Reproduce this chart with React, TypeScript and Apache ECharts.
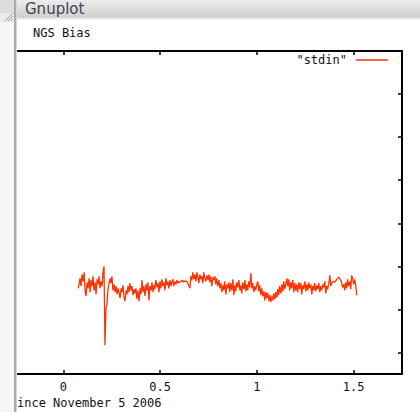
import React, { useEffect, useRef } from "react";
import * as echarts from "echarts";

const chartTitle = "NGS Bias";
const windowTitle = "Gnuplot";
const xAxisText = "ince November 5 2006";
const seriesName = '"stdin"';
const xTickValues = [0, 0.5, 1, 1.5];

// [days since Nov 5 2006, bias]
const biasSamples: [number, number][] = [
  [0.076,-1.51],[0.081,-1.42],[0.086,-1.28],[0.091,-1.46],[0.096,-1.19],[0.102,-1.35],[0.107,-1.14],[0.112,-1.56],[0.117,-1.69],[0.122,-1.37],
  [0.127,-1.51],[0.133,-1.28],[0.138,-1.60],[0.143,-1.32],[0.148,-1.46],[0.153,-1.23],[0.158,-1.56],[0.164,-1.37],[0.169,-1.65],[0.174,-1.30],
  [0.179,-1.42],[0.184,-1.23],[0.189,-1.51],[0.195,-1.35],[0.200,-1.46],[0.205,-1.14],[0.210,-1.00],[0.215,-2.83],[0.220,-1.97],[0.225,-1.90],
  [0.231,-1.51],[0.236,-1.42],[0.241,-1.28],[0.246,-1.39],[0.251,-1.23],[0.256,-1.56],[0.262,-1.42],[0.267,-1.60],[0.272,-1.46],[0.277,-1.65],
  [0.282,-1.51],[0.287,-1.60],[0.293,-1.74],[0.298,-1.51],[0.303,-1.60],[0.308,-1.44],[0.313,-1.69],[0.318,-1.81],[0.324,-1.56],[0.329,-1.65],
  [0.334,-1.46],[0.339,-1.60],[0.344,-1.39],[0.349,-1.56],[0.354,-1.46],[0.360,-1.67],[0.365,-1.53],[0.370,-1.63],[0.375,-1.51],[0.380,-1.76],
  [0.385,-1.56],[0.391,-1.81],[0.396,-1.51],[0.401,-1.65],[0.406,-1.32],[0.411,-1.60],[0.416,-1.46],[0.422,-1.69],[0.427,-1.42],[0.432,-1.56],
  [0.437,-1.37],[0.442,-1.79],[0.447,-1.46],[0.453,-1.56],[0.458,-1.37],[0.463,-1.60],[0.468,-1.44],[0.473,-1.53],[0.478,-1.32],[0.484,-1.49],
  [0.489,-1.39],[0.494,-1.60],[0.499,-1.35],[0.504,-1.51],[0.509,-1.30],[0.514,-1.46],[0.520,-1.37],[0.525,-1.56],[0.530,-1.28],[0.535,-1.44],
  [0.540,-1.35],[0.545,-1.51],[0.551,-1.32],[0.556,-1.46],[0.561,-1.37],[0.566,-1.30],[0.571,-1.46],[0.576,-1.35],[0.582,-1.42],[0.587,-1.32],
  [0.592,-1.39],[0.597,-1.35],[0.602,-1.37],[0.607,-1.35],[0.613,-1.32],[0.618,-1.37],[0.623,-1.33],[0.628,-1.36],[0.633,-1.34],[0.638,-1.35],
  [0.644,-1.39],[0.649,-1.46],[0.654,-1.51],[0.659,-1.23],
  [0.664,-1.32],[0.669,-1.14],[0.675,-1.30],[0.680,-1.19],[0.685,-1.35],[0.690,-1.14],[0.695,-1.25],[0.700,-1.39],[0.705,-1.19],[0.711,-1.30],
  [0.716,-1.23],[0.721,-1.39],[0.726,-1.14],[0.731,-1.28],[0.736,-1.35],[0.742,-1.21],[0.747,-1.32],[0.752,-1.19],[0.757,-1.37],[0.762,-1.23],
  [0.767,-1.46],[0.773,-1.25],[0.778,-1.32],[0.783,-1.23],[0.788,-1.42],[0.793,-1.28],[0.798,-1.46],[0.804,-1.32],[0.809,-1.51],[0.814,-1.39],
  [0.819,-1.60],[0.824,-1.44],[0.829,-1.56],[0.834,-1.35],[0.840,-1.65],[0.845,-1.42],[0.850,-1.51],[0.855,-1.37],[0.860,-1.60],[0.865,-1.39],
  [0.871,-1.56],[0.876,-1.30],[0.881,-1.67],[0.886,-1.44],[0.891,-1.58],[0.896,-1.37],[0.902,-1.49],[0.907,-1.32],[0.912,-1.56],[0.917,-1.44],
  [0.922,-1.63],[0.927,-1.37],[0.933,-1.53],[0.938,-1.32],[0.943,-1.58],[0.948,-1.42],[0.953,-1.56],[0.958,-1.35],[0.963,-1.49],[0.969,-1.16],
  [0.974,-1.51],[0.979,-1.39],[0.984,-1.60],[0.989,-1.46],[0.994,-1.56],[1.000,-1.42],[1.005,-1.35],[1.010,-1.58],[1.015,-1.44],[1.020,-1.67],
  [1.025,-1.51],[1.031,-1.69],[1.036,-1.58],[1.041,-1.79],[1.046,-1.60],[1.051,-1.74],[1.056,-1.62],[1.062,-1.81],[1.067,-1.66],[1.072,-1.83],
  [1.077,-1.70],[1.082,-1.79],[1.087,-1.63],[1.093,-1.76],[1.098,-1.60],[1.103,-1.72],[1.108,-1.53],[1.113,-1.67],[1.118,-1.46],[1.124,-1.63],
  [1.129,-1.42],[1.134,-1.58],[1.139,-1.35],[1.144,-1.53],[1.149,-1.42],[1.155,-1.28],[1.160,-1.46],[1.165,-1.30],[1.170,-1.56],[1.175,-1.37],
  [1.180,-1.51],[1.186,-1.32],[1.191,-1.60],[1.196,-1.39],[1.201,-1.56],[1.206,-1.42],[1.211,-1.60],[1.217,-1.37],[1.222,-1.53],[1.227,-1.39],
  [1.232,-1.65],[1.237,-1.44],[1.242,-1.53],[1.248,-1.35],[1.253,-1.58],[1.258,-1.42],[1.263,-1.56],[1.268,-1.37],[1.273,-1.51],[1.279,-1.42],
  [1.284,-1.65],[1.289,-1.46],[1.294,-1.56],[1.299,-1.39],[1.304,-1.58],[1.310,-1.44],[1.315,-1.53],[1.320,-1.39],[1.325,-1.60],[1.330,-1.46],
  [1.335,-1.56],[1.341,-1.42],[1.346,-1.49],[1.351,-1.35],[1.356,-1.63],[1.361,-1.46],[1.366,-1.53],[1.372,-1.39],[1.377,-1.21],[1.382,-1.46],
  [1.387,-1.39],[1.392,-1.35],[1.402,-1.37],[1.413,-1.30],[1.423,-1.25],[1.433,-1.32],[1.438,-1.37],[1.443,-1.49],[1.449,-1.42],[1.454,-1.56],
  [1.459,-1.37],[1.464,-1.51],[1.469,-1.30],[1.474,-1.46],[1.480,-1.35],[1.485,-1.53],[1.490,-1.21],[1.495,-1.28],[1.500,-1.42],[1.505,-1.30],
  [1.511,-1.46],[1.516,-1.67],
];

const MONO = "'DejaVu Sans Mono', monospace";

export default function App() {
  const ref = useRef<HTMLDivElement>(null);
  useEffect(() => {
    if (!ref.current) return;
    const chart = echarts.init(ref.current, null, { renderer: "svg" });
    const isTick = (v: number) => xTickValues.some((t) => Math.abs(t - v) < 1e-9);
    const axisLine = { show: true, onZero: false, lineStyle: { color: "#000", width: 2 } };
    const tick = { show: true, inside: true, length: 4, lineStyle: { color: "#000", width: 1.5 } };
    chart.setOption({
      animation: false,
      backgroundColor: "#ffffff",
      title: {
        text: chartTitle,
        left: 33,
        top: 27,
        padding: 0,
        textStyle: { fontFamily: MONO, fontSize: 12, fontWeight: "normal", color: "#111" },
      },
      legend: {
        data: [seriesName],
        right: 32,
        top: 54,
        padding: 0,
        align: "right",
        icon: "rect",
        itemWidth: 32,
        itemHeight: 1.5,
        textStyle: { fontFamily: MONO, fontSize: 12, color: "#111", padding: [0, 4, 0, 0] },
      },
      grid: { left: 15, right: 18, top: 51, bottom: 38, containLabel: false },
      xAxis: [
        {
          type: "value",
          position: "bottom",
          min: -0.25,
          max: 1.75,
          splitNumber: 4,
          axisLine,
          axisTick: tick,
          splitLine: { show: false },
          axisLabel: {
            margin: 7,
            fontFamily: MONO,
            fontSize: 12,
            color: "#111",
            formatter: (v: number) => (isTick(v) ? String(v) : ""),
          },
        },
        {
          type: "value",
          position: "top",
          min: -0.25,
          max: 1.75,
          splitNumber: 4,
          axisLine,
          axisTick: tick,
          splitLine: { show: false },
          axisLabel: { show: false },
        },
      ],
      yAxis: [
        {
          type: "value",
          position: "left",
          min: -3.5,
          max: 4,
          splitNumber: 7,
          axisLine: { show: false, onZero: false },
          axisTick: { show: false },
          splitLine: { show: false },
          axisLabel: { show: false },
        },
        {
          type: "value",
          position: "right",
          min: -3.5,
          max: 4,
          splitNumber: 7,
          axisLine,
          axisTick: tick,
          splitLine: { show: false },
          axisLabel: { show: false },
        },
      ],
      series: [
        {
          name: seriesName,
          type: "line",
          xAxisIndex: 0,
          yAxisIndex: 0,
          showSymbol: false,
          symbol: "none",
          data: biasSamples,
          itemStyle: { color: "#ff3300" },
          lineStyle: { color: "#ff3300", width: 1.3 },
        },
      ],
      graphic: [
        {
          type: "rect",
          z: 100,
          shape: { x: 15, y: 0, width: 405, height: 17 },
          style: {
            fill: new echarts.graphic.LinearGradient(0, 0, 0, 1, [
              { offset: 0, color: "#ececec" },
              { offset: 1, color: "#d0d0d0" },
            ]),
          },
        },
        {
          type: "rect",
          z: 100,
          shape: { x: 15, y: 17, width: 405, height: 4 },
          style: {
            fill: new echarts.graphic.LinearGradient(0, 0, 0, 1, [
              { offset: 0, color: "#c8c8c8" },
              { offset: 1, color: "rgba(255,255,255,0)" },
            ]),
          },
        },
        {
          type: "text",
          z: 101,
          x: 25,
          y: 9,
          style: {
            text: windowTitle,
            fontFamily: "'DejaVu Sans', sans-serif",
            fontSize: 15,
            fill: "#3c4650",
            verticalAlign: "middle",
          },
        },
        { type: "rect", z: 100, shape: { x: 0, y: 0, width: 15, height: 13 }, style: { fill: "#dcdcdc" } },
        { type: "rect", z: 100, shape: { x: 0, y: 13, width: 15, height: 9 }, style: { fill: "#ebebeb" } },
        { type: "rect", z: 100, shape: { x: 0, y: 22, width: 15, height: 390 }, style: { fill: "#f6f6f6" } },
        { type: "line", z: 101, shape: { x1: 5, y1: 21, x2: 13, y2: 13 }, style: { stroke: "#9a9a9a", lineWidth: 1 } },
        { type: "line", z: 101, shape: { x1: 8, y1: 21, x2: 13, y2: 16 }, style: { stroke: "#9a9a9a", lineWidth: 1 } },
        { type: "line", z: 101, shape: { x1: 11, y1: 21, x2: 13, y2: 19 }, style: { stroke: "#9a9a9a", lineWidth: 1 } },
        { type: "rect", z: 101, shape: { x: 14, y: 0, width: 2, height: 412 }, style: { fill: "#a9a9a9" } },
        { type: "rect", z: 101, shape: { x: 16, y: 0, width: 1, height: 412 }, style: { fill: "#d6d6d6" } },
        {
          type: "text",
          z: 99,
          x: 17,
          y: 403,
          style: {
            text: xAxisText,
            fontFamily: MONO,
            fontSize: 12,
            fill: "#111",
            verticalAlign: "middle",
          },
        },
      ],
    });
    return () => chart.dispose();
  }, []);
  return (
    <div
      ref={ref}
      style={{ position: "fixed", left: 0, top: 0, width: 420, height: 412 }}
    />
  );
}
